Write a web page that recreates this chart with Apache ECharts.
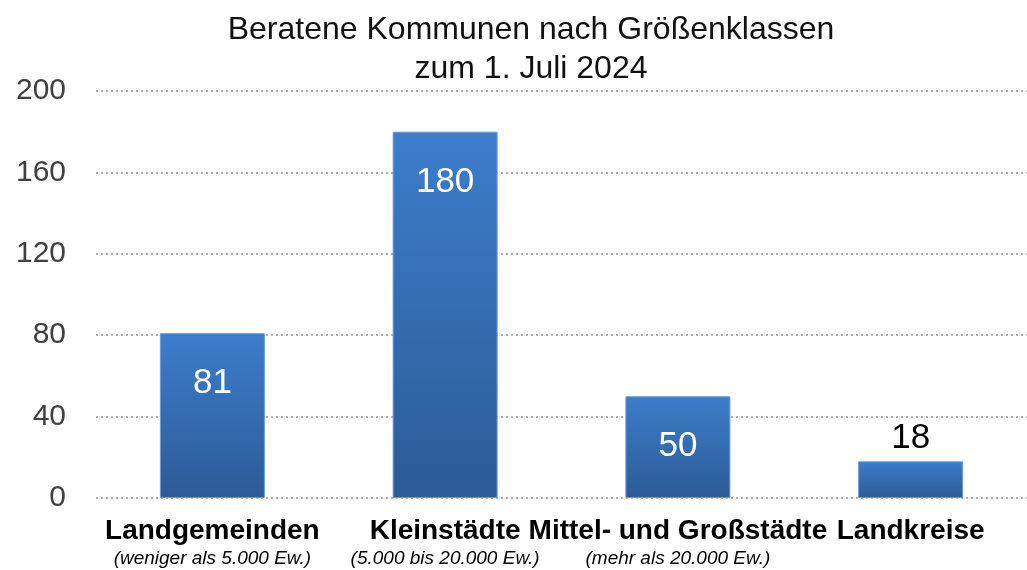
<!DOCTYPE html>
<html>
<head>
<meta charset="utf-8">
<script src="https://cdn.jsdelivr.net/npm/echarts@6/dist/echarts.min.js"></script>
<style>
  html, body { margin: 0; padding: 0; background: #ffffff; }
  #chart { width: 1027px; height: 570px; }
</style>
</head>
<body>
<div id="chart"></div>
<script>
var categories = ['Landgemeinden', 'Kleinstädte', 'Mittel- und Großstädte', 'Landkreise'];
var subLabels = ['(weniger als 5.000 Ew.)', '(5.000 bis 20.000 Ew.)', '(mehr als 20.000 Ew.)', ''];
var values = [81, 180, 50, 18];
var yTicks = [0, 40, 80, 120, 160, 200];

var chart = echarts.init(document.getElementById('chart'));

var barData = values.map(function (v) {
  if (v < 30) {
    // small bar: label sits above it, in black
    return { value: v, label: { position: 'top', distance: 6, color: '#000' } };
  }
  return v;
});

var option = {
  animation: false,
  title: {
    text: 'Beratene Kommunen nach Größenklassen\nzum 1. Juli 2024',
    left: 526,
    textAlign: 'center',
    top: 6,
    textStyle: {
      fontFamily: 'Liberation Sans, Arial, sans-serif',
      fontWeight: 'normal',
      fontSize: 32,
      lineHeight: 39,
      color: '#111'
    }
  },
  grid: {
    left: 96,
    right: 0,
    top: 91,
    bottom: 72
  },
  xAxis: {
    type: 'category',
    data: categories,
    axisLine: { show: false },
    axisTick: { show: false },
    axisLabel: {
      margin: 17,
      interval: 0,
      formatter: function (val, i) {
        var s = '{a|' + val + '}';
        if (subLabels[i]) s += '\n{b|' + subLabels[i] + '}';
        return s;
      },
      rich: {
        a: {
          fontFamily: 'Liberation Sans, Arial, sans-serif',
          fontWeight: 'bold',
          fontSize: 28,
          color: '#000',
          lineHeight: 32
        },
        b: {
          fontFamily: 'Liberation Sans, Arial, sans-serif',
          fontStyle: 'italic',
          fontSize: 19,
          color: '#000',
          lineHeight: 24
        }
      }
    }
  },
  yAxis: {
    type: 'value',
    min: yTicks[0],
    max: yTicks[yTicks.length - 1],
    interval: 40,
    axisLine: { show: false },
    axisTick: { show: false },
    axisLabel: {
      margin: 30,
      fontFamily: 'Liberation Sans, Arial, sans-serif',
      fontSize: 30,
      color: '#404040'
    },
    splitLine: {
      show: true,
      lineStyle: { color: '#b0b0b0', width: 2, type: [2, 3] }
    }
  },
  series: [
    {
      type: 'bar',
      data: barData,
      barWidth: 105,
      itemStyle: {
        color: new echarts.graphic.LinearGradient(0, 0, 0, 1, [
          { offset: 0, color: '#3d7dcb' },
          { offset: 1, color: '#2c5b96' }
        ]),
        borderColor: '#6b9bd8',
        borderWidth: 1
      },
      label: {
        show: true,
        position: 'insideTop',
        distance: 33,
        fontFamily: 'Liberation Sans, Arial, sans-serif',
        fontSize: 35,
        color: '#fff'
      }
    }
  ]
};

chart.setOption(option);
</script>
</body>
</html>
